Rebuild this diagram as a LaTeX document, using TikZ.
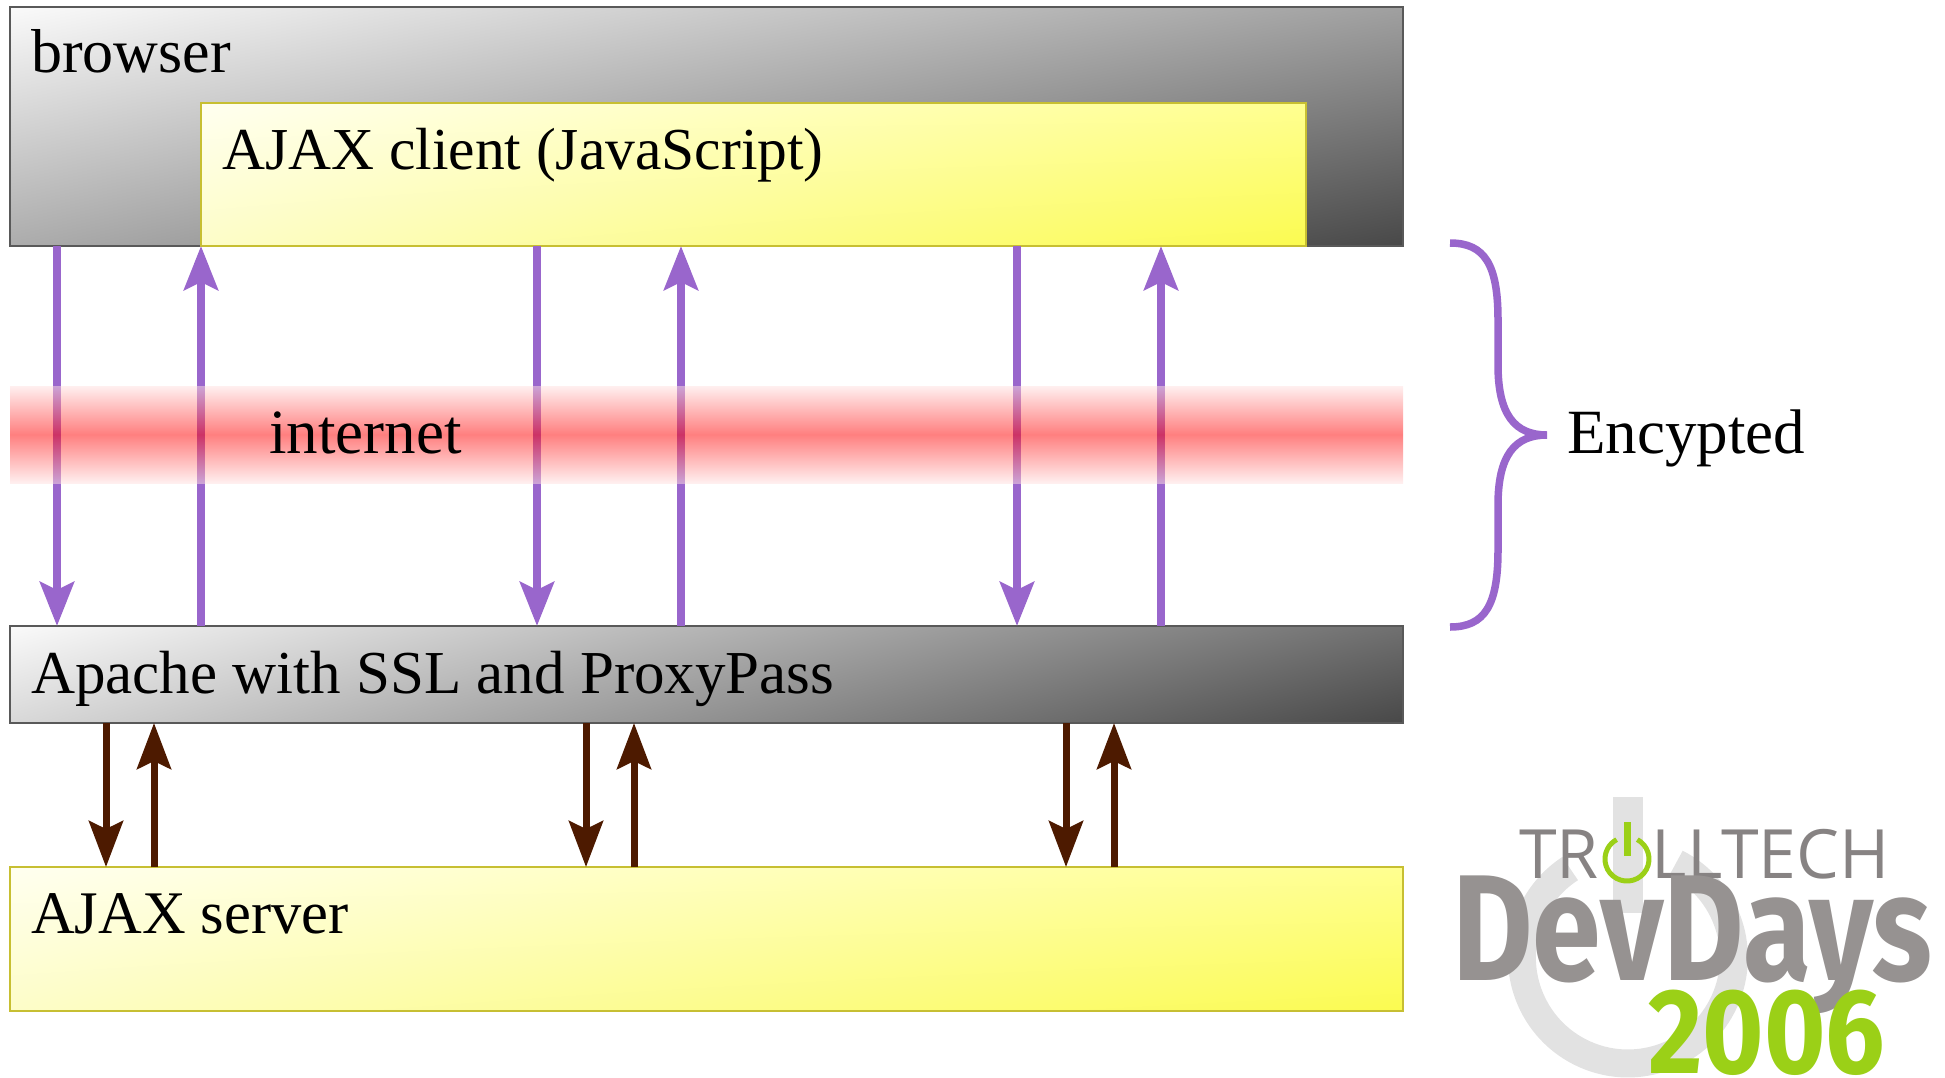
\documentclass[tikz,border=0pt]{standalone}
\usepackage{fontspec}
\setmainfont{Liberation Serif}
\newfontfamily\logofont[FakeStretch=0.82]{Fira Sans}
\newfontfamily\yearfont[FakeStretch=0.87]{Fira Sans}
\newfontfamily\thinfont{Open Sans}
\usetikzlibrary{arrows.meta,shadings}
\definecolor{wire}{HTML}{9966CC}
\definecolor{inner}{HTML}{4D1A00}
\definecolor{logogray}{HTML}{969291}
\definecolor{logogreen}{HTML}{9BD017}
\definecolor{ringgray}{HTML}{E2E2E2}
\definecolor{grayA}{HTML}{FAFAFA}
\definecolor{grayB}{HTML}{A0A0A0}
\definecolor{grayC}{HTML}{ACACAC}
\definecolor{grayD}{HTML}{484848}
\definecolor{grayE}{HTML}{707070}
\definecolor{grayF}{HTML}{D8D8D8}
\definecolor{yellowA}{HTML}{FFFFF0}
\definecolor{yellowB}{HTML}{FFFF90}
\definecolor{yellowC}{HTML}{FDFDC8}
\definecolor{yellowD}{HTML}{FBFB50}
\tikzstyle{graybox}=[rectangle, draw=black!65, line width=1.2pt, upper left=grayA, lower right=grayD, upper right=grayB, lower left=grayC, inner sep=0pt]
\tikzstyle{yellowbox}=[rectangle, draw=yellow!75!black, line width=1.5pt, upper left=yellowA, lower right=yellowD, upper right=yellowB, lower left=yellowC, inner sep=0pt]
\tikzstyle{caption}=[anchor=base west, inner sep=0pt, font=\fontsize{61}{61}\selectfont]
\tikzstyle{wirearrow}=[draw=wire, line width=8pt, -{Stealth[length=44pt,width=34pt,inset=8pt]}]
\tikzstyle{innerarrow}=[draw=inner, line width=7pt, -{Stealth[length=46pt,width=34pt,inset=8pt]}]
\begin{document}
\begin{tikzpicture}[x=1pt,y=-1pt]
    \useasboundingbox (0,0) rectangle (1945,1077);
    % boxes
    \node[graybox, minimum width=1393pt, minimum height=239pt] (browser) at (706.5,126.5) {};
    \node[yellowbox, minimum width=1105pt, minimum height=143pt] (client) at (753.5,174.5) {};
    \node[graybox, upper right=grayE, lower left=grayF, minimum width=1393pt, minimum height=97pt] (apache) at (706.5,674.5) {};
    \node[yellowbox, minimum width=1393pt, minimum height=144pt] (server) at (706.5,939) {};
    % arrow ends
    \coordinate (b1) at (57,246);
    \coordinate (b2) at (201,246);
    \coordinate (b3) at (537,246);
    \coordinate (b4) at (681,246);
    \coordinate (b5) at (1017,246);
    \coordinate (b6) at (1161,246);
    \coordinate (a1) at (57,626);
    \coordinate (a2) at (201,626);
    \coordinate (a3) at (537,626);
    \coordinate (a4) at (681,626);
    \coordinate (a5) at (1017,626);
    \coordinate (a6) at (1161,626);
    \coordinate (p1) at (106,723);
    \coordinate (p2) at (154,723);
    \coordinate (p3) at (586,723);
    \coordinate (p4) at (634,723);
    \coordinate (p5) at (1066,723);
    \coordinate (p6) at (1114,723);
    \coordinate (s1) at (106,867);
    \coordinate (s2) at (154,867);
    \coordinate (s3) at (586,867);
    \coordinate (s4) at (634,867);
    \coordinate (s5) at (1066,867);
    \coordinate (s6) at (1114,867);
    \draw[wirearrow] (b1) -- (a1);
    \draw[wirearrow] (a2) -- (b2);
    \draw[wirearrow] (b3) -- (a3);
    \draw[wirearrow] (a4) -- (b4);
    \draw[wirearrow] (b5) -- (a5);
    \draw[wirearrow] (a6) -- (b6);
    \draw[innerarrow] (p1) -- (s1);
    \draw[innerarrow] (s2) -- (p2);
    \draw[innerarrow] (p3) -- (s3);
    \draw[innerarrow] (s4) -- (p4);
    \draw[innerarrow] (p5) -- (s5);
    \draw[innerarrow] (s6) -- (p6);
    % internet band goes over the arrows
    \node[rectangle, shade, top color=red!12, bottom color=red!12, middle color=red, fill opacity=0.5, draw=none, minimum width=1393pt, minimum height=97pt, inner sep=0pt] (band) at (706.5,434.5) {};
    % brace
    \draw[wire, line width=7.5pt] (1450,243) .. controls (1485,243) and (1498,265) .. (1498,320) -- (1498,365) .. controls (1498,415) and (1515,435) .. (1547,435) .. controls (1515,435) and (1498,455) .. (1498,505) -- (1498,550) .. controls (1498,605) and (1485,627) .. (1450,627);
    % labels
    \node[caption, font=\fontsize{62}{62}\selectfont] (browserlabel) at (31,72) {browser};
    \node[caption, font=\fontsize{59.5}{60}\selectfont] (clientlabel) at (222,169) {AJAX client (JavaScript)};
    \node[caption, font=\fontsize{63}{63}\selectfont] (bandlabel) at (269,453) {internet};
    \node[caption, font=\fontsize{63}{63}\selectfont] (encrypted) at (1567,453) {Encypted};
    \node[caption] (apachelabel) at (31,693) {Apache with SSL and ProxyPass};
    \node[caption, font=\fontsize{60.5}{61}\selectfont] (serverlabel) at (31,933) {AJAX server};
    % logo
    \draw[ringgray, line width=28pt] (1676,863) arc (-63:237:106);
    \fill[ringgray] (1613,797) rectangle (1643,913);
    \node[anchor=base west, inner sep=0pt, text=logogray!90!black, font=\thinfont\fontsize{68}{68}\selectfont] (trolltech) at (1519,878) {TR\phantom{O}LLTECH};
    \node[anchor=base west, inner sep=0pt, text=logogray, font=\logofont\bfseries\fontsize{151}{151}\selectfont] (devdays) at (1452,980) {DevDays};
    \node[anchor=base west, inner sep=0pt, text=logogreen, font=\yearfont\bfseries\fontsize{121}{121}\selectfont] (year) at (1648,1073) {2006};
    \draw[logogreen, line width=5pt] (1637.3,839.6) arc (-62:242:22);
    \fill[logogreen] (1623.5,822) rectangle (1630.5,856);
\end{tikzpicture}
\end{document}
